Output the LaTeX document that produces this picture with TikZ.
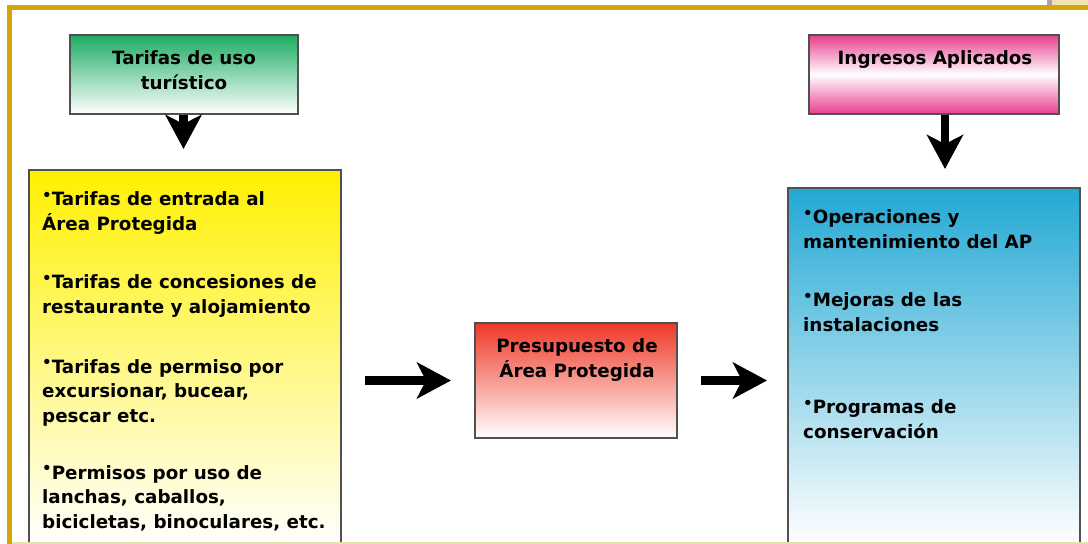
\documentclass[tikz,border=0pt]{standalone}
\usepackage{fontspec}
\setmainfont{DejaVu Sans}
\usetikzlibrary{arrows.meta}
\definecolor{gold}{RGB}{212,166,8}
\definecolor{frameline}{RGB}{232,224,170}
\definecolor{beige}{RGB}{242,226,178}
\definecolor{bordergray}{RGB}{80,80,80}
\definecolor{cgreen}{RGB}{28,172,98}
\definecolor{cyellow}{RGB}{255,240,0}
\definecolor{cred}{RGB}{238,56,38}
\definecolor{cpink}{RGB}{232,62,142}
\definecolor{cblue}{RGB}{34,168,212}
\newcommand{\bul}{\raisebox{5.5pt}{\fontsize{15}{15}\selectfont •}}
\tikzset{
  box/.style={draw=bordergray, line width=2pt, inner sep=0pt, shading=axis, shading angle=0},
  txt/.style={font=\fontsize{18.3}{24.5}\selectfont\bfseries, inner sep=0pt, align=left, anchor=base west},
  ctxt/.style={font=\fontsize{18.3}{24.5}\selectfont\bfseries, inner sep=0pt, align=center, anchor=base}
}
\tikzset{bigarrow/.style={line width=8.5pt, -{Stealth[length=34pt, width=36pt, inset=9pt]}}}
\begin{document}
\begin{tikzpicture}[x=1pt, y=-1pt]
\useasboundingbox (0,0) rectangle (1088,544);
\clip (0,0) rectangle (1088,544);
\fill[white] (0,0) rectangle (1088,544);
% frame
\fill[gold] (7,5) rectangle (1088,10);
\fill[gold] (7,5) rectangle (12,544);
\fill[gray!70] (1047,0) rectangle (1052,5);
\fill[beige] (1052,0) rectangle (1088,5);
% boxes
\node[box, top color=cgreen, bottom color=white, minimum width=228pt, minimum height=79pt] (tarifas) at (183.5,74.5) {};
\node[box, top color=cyellow, bottom color=white, minimum width=312pt, minimum height=374pt] (lista) at (185,357) {};
\node[box, top color=cred, bottom color=white, minimum width=202pt, minimum height=115pt] (presu) at (576,380.5) {};
\node[box, top color=cpink, bottom color=cpink, middle color=white, minimum width=250pt, minimum height=79pt] (ingresos) at (934,74.5) {};
\node[box, top color=cblue, bottom color=white, minimum width=292pt, minimum height=356pt] (usos) at (934,366) {};
% frame line over boxes bottom
\fill[frameline] (12,541.5) rectangle (1088,544);
% titles (anchor = baseline of last line)
\node[ctxt] (t1) at (184,89) {Tarifas de uso\\turístico};
\node[ctxt] (t2) at (935,64) {Ingresos Aplicados};
\node[ctxt] (t3) at (577,377) {Presupuesto de\\Área Protegida};
% left list
\node[txt] (l1) at (42,230) {\bul Tarifas de entrada al\\Área Protegida};
\node[txt] (l2) at (42,313) {\bul Tarifas de concesiones de\\restaurante y alojamiento};
\node[txt] (l3) at (42,422) {\bul Tarifas de permiso por\\excursionar, bucear,\\pescar etc.};
\node[txt] (l4) at (42,528) {\bul Permisos por uso de\\lanchas, caballos,\\bicicletas, binoculares, etc.};
% right list
\node[txt] (r1) at (803,248) {\bul Operaciones y\\mantenimiento del AP};
\node[txt] (r2) at (803,331) {\bul Mejoras de las\\instalaciones};
\node[txt] (r3) at (803,438) {\bul Programas de\\conservación};
% arrows
\draw[bigarrow, shorten >=20pt] (tarifas.south) -- (tarifas.south |- lista.north);
\draw[bigarrow, shorten >=18pt] ([xshift=11pt]ingresos.south) -- ([xshift=11pt]ingresos.south |- usos.north);
\draw[bigarrow, shorten <=23pt, shorten >=23pt] (lista.east |- presu.west) -- (presu.west);
\draw[bigarrow, shorten <=23pt, shorten >=20pt] (presu.east) -- (presu.east -| usos.west);
\end{tikzpicture}
\end{document}
